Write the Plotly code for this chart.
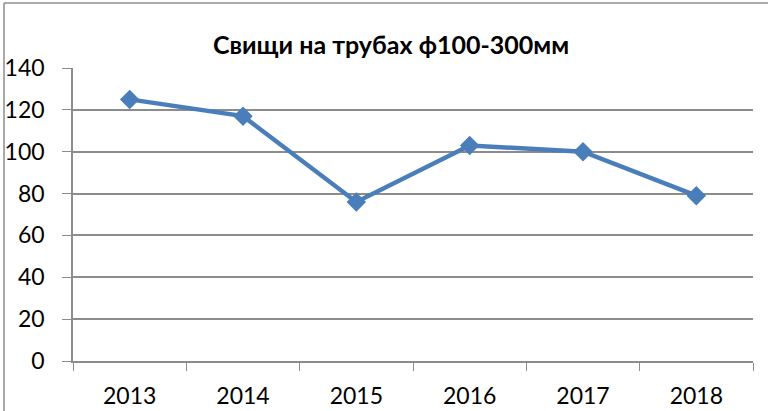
import plotly.graph_objects as go

years = ["2013", "2014", "2015", "2016", "2017", "2018"]
values = [125, 117, 76, 103, 100, 79]
title_text = "Свищи на трубах ф100-300мм"

L, R, T, B = 73, 753, 68, 361
W, H = 768, 411
pw, ph = R - L, B - T

def px(x):
    return (x - L) / pw

def py(y):
    return (B - y) / ph

fig = go.Figure()
fig.add_trace(go.Scatter(
    x=years, y=values, mode="lines+markers",
    line=dict(color="#4A7EBB", width=4.5),
    marker=dict(symbol="diamond", size=15, color="#4A7EBB"),
    showlegend=False,
))

border = "#8C8C8C"
fig.update_layout(
    width=W, height=H,
    margin=dict(l=L, r=W - R, t=T, b=H - B, autoexpand=False),
    paper_bgcolor="white", plot_bgcolor="white",
    font=dict(family="Lato, Open Sans, sans-serif", color="#000000", size=23),
    title=dict(text="<b>" + title_text + "</b>", x=391 / W, xanchor="center",
               y=1 - 45 / H, yanchor="middle", font=dict(size=25),
               automargin=False),
    xaxis=dict(type="category", tickson="boundaries", ticks="outside", ticklen=8,
               tickcolor=border, showline=True, linecolor=border, linewidth=1.5,
               showgrid=False, range=[-0.5, 5.5], tickfont=dict(size=23),
               ticklabelstandoff=14, automargin=False),
    yaxis=dict(range=[0, 140], dtick=20, ticks="outside", ticklen=9,
               tickcolor=border, showline=True, linecolor=border, linewidth=1.5,
               showgrid=True, gridcolor=border, gridwidth=1.5, zeroline=False,
               tickfont=dict(size=23), ticklabelstandoff=13, automargin=False),
    shapes=[
        dict(type="line", xref="paper", yref="paper", x0=px(4), x1=px(768),
             y0=py(3), y1=py(3), line=dict(color=border, width=1.5)),
        dict(type="line", xref="paper", yref="paper", x0=px(4), x1=px(4),
             y0=py(3), y1=py(411), line=dict(color=border, width=1.5)),
    ],
)

fig.write_html("out.html", config={"displayModeBar": False},
               post_script="document.body.style.margin='0';document.body.style.overflow='hidden';")
